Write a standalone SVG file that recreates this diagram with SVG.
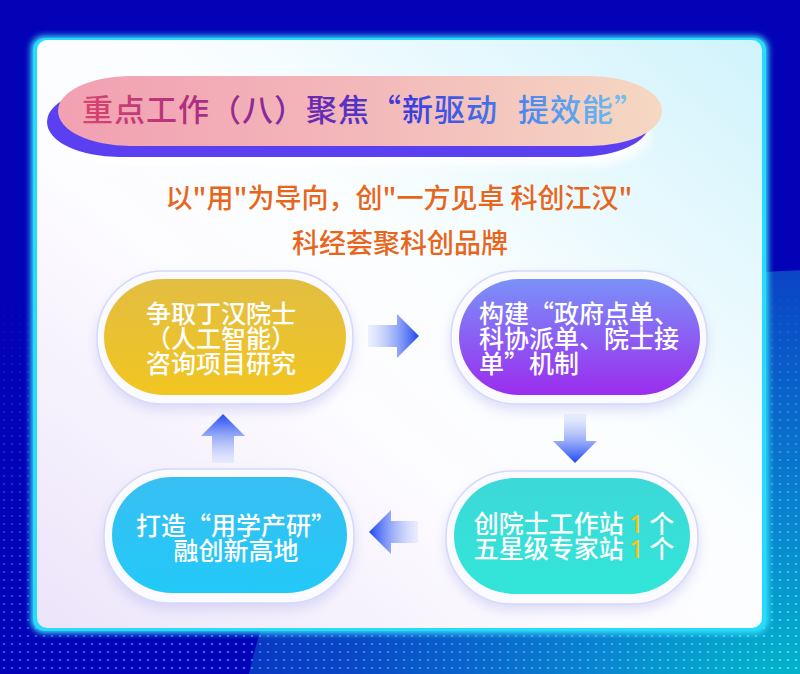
<svg xmlns="http://www.w3.org/2000/svg" width="800" height="674" viewBox="0 0 800 674">
<defs>
<style>
.t{font-family:"Noto Sans CJK SC","Noto Sans",sans-serif;}
.nt{font-size:25px;fill:#ffffff;font-weight:500;}
.sub{font-size:27px;fill:#e8661c;font-weight:500;text-anchor:middle;}
.halo{fill:#fafaff;stroke:#d3daf9;stroke-width:1.5;filter:url(#hs);}
.one{fill:#f7c51a;font-family:"Noto Sans","Noto Sans CJK SC",sans-serif;}
</style>
<radialGradient id="bgwave" cx="800" cy="740" r="600" gradientUnits="userSpaceOnUse">
<stop offset="0" stop-color="#00c6c8"/>
<stop offset="0.35" stop-color="#0a86d0"/>
<stop offset="0.75" stop-color="#0a48c6"/>
<stop offset="1" stop-color="#0a30c0"/>
</radialGradient>
<linearGradient id="dotcol" x1="0" y1="0" x2="800" y2="0" gradientUnits="userSpaceOnUse">
<stop offset="0" stop-color="#2a6ae8"/>
<stop offset="0.6" stop-color="#36a8f0"/>
<stop offset="1" stop-color="#4ef0e0"/>
</linearGradient>
<linearGradient id="fadeg" x1="0" y1="280" x2="0" y2="674" gradientUnits="userSpaceOnUse">
<stop offset="0" stop-color="#fff" stop-opacity="0"/>
<stop offset="0.5" stop-color="#fff" stop-opacity="0.5"/>
<stop offset="1" stop-color="#fff" stop-opacity="1"/>
</linearGradient>
<pattern id="dots" width="8" height="8" patternUnits="userSpaceOnUse">
<ellipse cx="4" cy="4" rx="1.3" ry="1.1" fill="#fff"/>
</pattern>
<mask id="dotmask"><rect width="800" height="674" fill="url(#dots)"/></mask>
<mask id="fademask"><rect width="800" height="674" fill="url(#fadeg)"/></mask>
<linearGradient id="cardg" x1="1" y1="0" x2="0" y2="1">
<stop offset="0" stop-color="#d0f3fc"/>
<stop offset="0.42" stop-color="#fbfeff"/>
<stop offset="0.6" stop-color="#fdfcff"/>
<stop offset="1" stop-color="#ece4fa"/>
</linearGradient>
<filter id="glow" x="-5%" y="-5%" width="110%" height="110%">
<feGaussianBlur stdDeviation="3"/>
</filter>
<filter id="hs" x="-20%" y="-20%" width="140%" height="150%">
<feDropShadow dx="0" dy="6" stdDeviation="6" flood-color="#b9b9ee" flood-opacity="0.45"/>
</filter>
<filter id="soft" x="-10%" y="-30%" width="120%" height="160%">
<feGaussianBlur stdDeviation="4"/>
</filter>
<linearGradient id="pillg" x1="0" y1="0" x2="1" y2="0">
<stop offset="0" stop-color="#f2a0b2"/>
<stop offset="0.5" stop-color="#f3b8ba"/>
<stop offset="1" stop-color="#f5d8c2"/>
</linearGradient>
<linearGradient id="titleg" x1="82" y1="0" x2="630" y2="0" gradientUnits="userSpaceOnUse">
<stop offset="0" stop-color="#d8456e"/>
<stop offset="0.25" stop-color="#a22a88"/>
<stop offset="0.42" stop-color="#6a2ab0"/>
<stop offset="0.6" stop-color="#3a3ee0"/>
<stop offset="0.8" stop-color="#4a84ee"/>
<stop offset="1" stop-color="#72c2f0"/>
</linearGradient>
<linearGradient id="g1" x1="0" y1="0" x2="0" y2="1">
<stop offset="0" stop-color="#e2be42"/>
<stop offset="1" stop-color="#f2c520"/>
</linearGradient>
<linearGradient id="g2" x1="0" y1="0" x2="0" y2="1">
<stop offset="0" stop-color="#7a92f8"/>
<stop offset="1" stop-color="#9b2cee"/>
</linearGradient>
<linearGradient id="g3" x1="0" y1="0" x2="0" y2="1">
<stop offset="0" stop-color="#3cd8d8"/>
<stop offset="1" stop-color="#32e6d8"/>
</linearGradient>
<linearGradient id="g4" x1="0" y1="0" x2="0" y2="1">
<stop offset="0" stop-color="#38bff2"/>
<stop offset="1" stop-color="#22c9f8"/>
</linearGradient>
<linearGradient id="aR" x1="368" y1="0" x2="419" y2="0" gradientUnits="userSpaceOnUse">
<stop offset="0" stop-color="#c8d4fa" stop-opacity="0.3"/>
<stop offset="1" stop-color="#1c46f2"/>
</linearGradient>
<linearGradient id="aD" x1="0" y1="414" x2="0" y2="463" gradientUnits="userSpaceOnUse">
<stop offset="0" stop-color="#c8d4fa" stop-opacity="0.3"/>
<stop offset="1" stop-color="#1c46f2"/>
</linearGradient>
<linearGradient id="aL" x1="418" y1="0" x2="369" y2="0" gradientUnits="userSpaceOnUse">
<stop offset="0" stop-color="#c8d4fa" stop-opacity="0.3"/>
<stop offset="1" stop-color="#1c46f2"/>
</linearGradient>
<linearGradient id="aU" x1="0" y1="463" x2="0" y2="414" gradientUnits="userSpaceOnUse">
<stop offset="0" stop-color="#c8d4fa" stop-opacity="0.3"/>
<stop offset="1" stop-color="#1c46f2"/>
</linearGradient>
</defs>

<!-- background -->
<rect width="800" height="674" fill="#0302b6"/>
<ellipse cx="820" cy="760" rx="580" ry="490" fill="url(#bgwave)"/>
<g mask="url(#fademask)">
<rect width="800" height="674" fill="url(#dotcol)" mask="url(#dotmask)"/>
</g>

<!-- card -->
<rect x="31" y="36" width="737" height="597" rx="13" fill="#3ae6ff" filter="url(#glow)"/>
<rect x="33" y="38" width="733" height="593" rx="12" fill="#26dcfb"/>
<rect x="37" y="40" width="725" height="588" rx="10" fill="url(#cardg)"/>

<!-- title -->
<g id="title">
<rect x="60" y="104" width="590" height="62" rx="60" ry="31" fill="#ffffff" opacity="0.9" filter="url(#soft)"/>
<rect x="47" y="87" width="603" height="70" rx="72" ry="35" fill="#5b40f2"/>
<rect x="58" y="76" width="604" height="70" rx="72" ry="35" fill="url(#pillg)"/>
<text class="t" x="82" y="121" font-size="31" font-weight="500" letter-spacing="1" fill="url(#titleg)">重点工作（八）聚焦“新驱动 <tspan dx="12">提效能”</tspan></text>
</g>

<!-- subtitle -->
<g id="subtitle">
<text class="t sub" x="399" y="208">以"用"为导向，创"一方见卓 科创江汉"</text>
<text class="t sub" x="400" y="253">科经荟聚科创品牌</text>
</g>

<!-- connectors -->
<g id="connectors">
<polygon points="368,325 397,325 397,314 419,336 397,358 397,347 368,347" fill="url(#aR)"/>
<polygon points="564,414 586,414 586,441 597,441 575,463 553,441 564,441" fill="url(#aD)"/>
<polygon points="418,521 391,521 391,510 369,532 391,554 391,543 418,543" fill="url(#aL)"/>
<polygon points="212,463 212,436 201,436 223,414 245,436 234,436 234,463" fill="url(#aU)"/>
</g>

<!-- nodes -->
<g id="node1">
<rect class="halo" x="97" y="271" width="256" height="133" rx="66" ry="66"/>
<rect x="104" y="279" width="242" height="116" rx="60" ry="58" fill="url(#g1)"/>
<text class="t nt" text-anchor="middle" x="221" y="323">争取丁汉院士</text>
<text class="t nt" text-anchor="middle" x="221" y="348">（人工智能）</text>
<text class="t nt" text-anchor="middle" x="221" y="373">咨询项目研究</text>
</g>

<g id="node2">
<rect class="halo" x="451" y="271" width="256" height="133" rx="66" ry="66"/>
<rect x="459" y="279" width="241" height="116" rx="60" ry="58" fill="url(#g2)"/>
<text class="t nt" x="479" y="323">构建“政府点单、</text>
<text class="t nt" x="479" y="348">科协派单、院士接</text>
<text class="t nt" x="479" y="373">单”机制</text>
</g>

<g id="node3">
<rect class="halo" x="446" y="471" width="252" height="133" rx="66" ry="66"/>
<rect x="454" y="478" width="236" height="116" rx="60" ry="58" fill="url(#g3)"/>
<text class="t nt" text-anchor="middle" x="574" y="533">创院士工作站 <tspan class="one">1</tspan> 个</text>
<text class="t nt" text-anchor="middle" x="574" y="558">五星级专家站 <tspan class="one">1</tspan> 个</text>
</g>

<g id="node4">
<rect class="halo" x="104" y="469" width="250" height="134" rx="66" ry="66"/>
<rect x="112" y="477" width="235" height="116" rx="60" ry="58" fill="url(#g4)"/>
<text class="t nt" text-anchor="middle" x="236" y="535">打造“用学产研”</text>
<text class="t nt" text-anchor="middle" x="236" y="560">融创新高地</text>
</g>
</svg>
